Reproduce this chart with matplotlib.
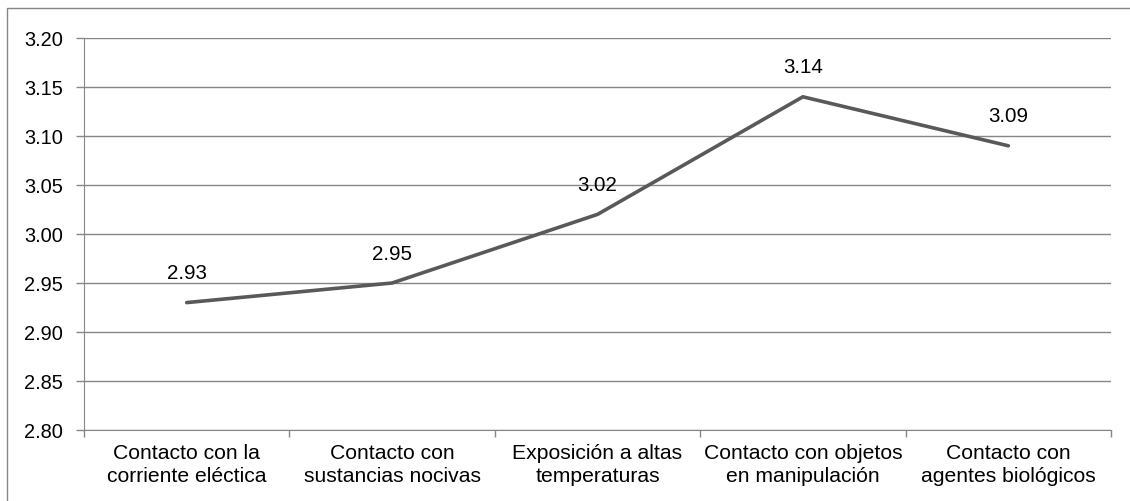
import matplotlib.pyplot as plt
from matplotlib.patches import Rectangle
import numpy as np

plt.rcParams['font.family'] = ['Liberation Sans', 'DejaVu Sans']

categories = ['Contacto con la\ncorriente eléctica', 'Contacto con\nsustancias nocivas',
              'Exposición a altas\ntemperaturas', 'Contacto con objetos\nen manipulación',
              'Contacto con\nagentes biológicos']
values = [2.93, 2.95, 3.02, 3.14, 3.09]
yticks = [2.80, 2.85, 2.90, 2.95, 3.00, 3.05, 3.10, 3.15, 3.20]

fig = plt.figure(figsize=(11.3, 5.01), dpi=100)
ax = fig.add_axes([84/1130, 1 - 430/501, (1111-84)/1130, (430-38)/501])

# outer chart border (right and bottom edges fall outside the image)
fig.patches.append(Rectangle((6.5/1130, -20/501), 1140/1130, (501-8+20)/501, transform=fig.transFigure,
                             fill=False, edgecolor='#868686', linewidth=1))

x = np.arange(len(values))
ax.plot(x, values, color='#595959', linewidth=2.6, solid_capstyle='round', zorder=3)
for xi, v in zip(x, values):
    ax.annotate('%.2f' % v, (xi, v), xytext=(0, 14), textcoords='offset points',
                ha='center', va='bottom', fontsize=14.8, color='black')

ax.set_xlim(-0.5, len(values) - 0.5)
ax.set_ylim(2.80, 3.20)
ax.set_yticks(yticks)
ax.set_yticklabels(['%.2f' % t for t in yticks], fontsize=14.4)
ax.yaxis.grid(True, color='#868686', linewidth=1)
ax.set_axisbelow(True)

ax.set_xticks(x)
ax.set_xticklabels(categories, fontsize=15.2, linespacing=1.27)
ax.tick_params(axis='x', length=0, pad=10)
ax.set_xticks(np.arange(-0.5, len(values)), minor=True)
ax.tick_params(axis='x', which='minor', length=5, color='#868686', width=1)
ax.tick_params(axis='y', length=6, color='#868686', width=1, pad=9)

for side in ['top', 'right']:
    ax.spines[side].set_visible(False)
for side in ['left', 'bottom']:
    ax.spines[side].set_color('#868686')

fig.savefig('out.png', dpi=100)
